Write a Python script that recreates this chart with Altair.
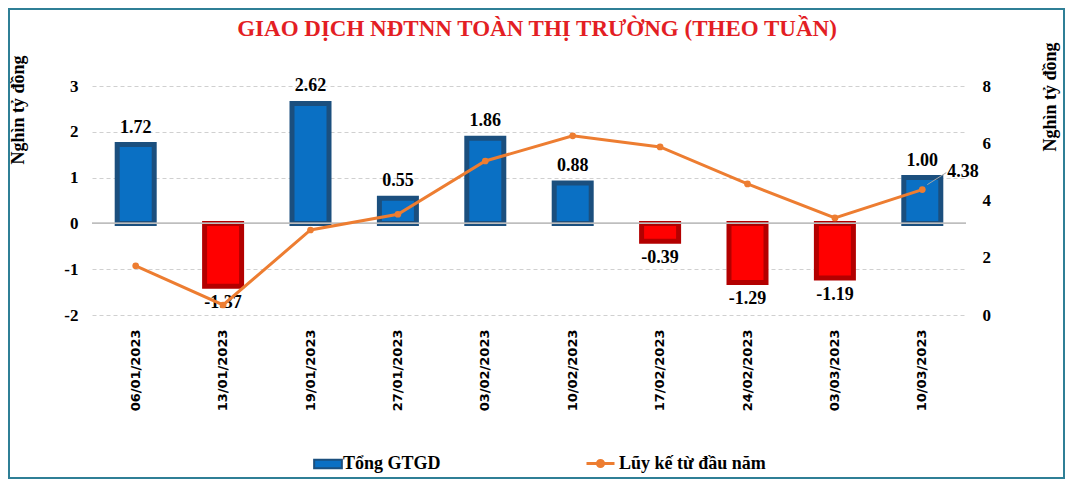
import altair as alt
import pandas as pd

dates = ["06/01/2023", "13/01/2023", "19/01/2023", "27/01/2023", "03/02/2023",
         "10/02/2023", "17/02/2023", "24/02/2023", "03/03/2023", "10/03/2023"]
weekly = [1.72, -1.37, 2.62, 0.55, 1.86, 0.88, -0.39, -1.29, -1.19, 1.00]
cumulative = [1.72, 0.35, 2.97, 3.52, 5.38, 6.26, 5.87, 4.58, 3.39, 4.38]
bar_name = "Tổng GTGD"
line_name = "Lũy kế từ đầu năm"

df = pd.DataFrame({"date": dates, "v": weekly, "cum": cumulative,
                   "s1": bar_name, "s2": line_name})
df["lbl"] = df["v"].map(lambda x: f"{x:.2f}")
df["cl"] = df["cum"].map(lambda x: f"{x:.2f}")

W, H = 874, 229
PL, PT, PR, PB = 84, 78, 99, 164
SERIF = "Liberation Serif"

xenc = alt.X("date:N", sort=dates, title=None,
             scale=alt.Scale(paddingInner=0.52, paddingOuter=0.26),
             axis=alt.Axis(labelAngle=-90, labelFont="DejaVu Sans", labelFontWeight="bold",
                           labelFontSize=13, labelColor="black", labelPadding=14,
                           domain=False, ticks=False, grid=False))

yleft = alt.Y("v:Q", scale=alt.Scale(domain=[-2, 3], nice=False),
              axis=alt.Axis(title="Nghìn tỷ đồng", values=[-2, -1, 0, 1, 2, 3],
                            labelExpr="'' + datum.value",
                            labelFont=SERIF, labelFontWeight="bold", labelFontSize=17,
                            labelColor="black", labelPadding=14, domain=False, ticks=False,
                            grid=True, gridDash=[4, 3], gridColor="#d0d0d0",
                            titleFont=SERIF, titleFontSize=18, titleFontWeight="bold",
                            titleColor="black", titleAngle=-90, titleX=-74, titleY=-31,
                            titleAlign="right", titleBaseline="middle"))

base = alt.Chart(df)

bars = base.mark_bar(size=37, strokeWidth=5).encode(
    x=xenc,
    y=yleft,
    color=alt.condition(
        "datum.v < 0", alt.value("#ff0000"),
        alt.Color("s1:N", scale=alt.Scale(domain=[bar_name], range=["#0a70c4"]),
                  legend=alt.Legend(title=None, orient="none", legendX=226, legendY=368,
                                    symbolType="M-1.6,-0.5L1.6,-0.5L1.6,0.5L-1.6,0.5Z",
                                    symbolSize=300, symbolStrokeColor="#1b4f7e",
                                    symbolStrokeWidth=2, labelFont=SERIF,
                                    labelFontWeight="bold", labelFontSize=18,
                                    labelColor="black", labelOffset=5))),
    stroke=alt.condition("datum.v < 0", alt.value("#b30000"), alt.value("#1b4f7e")),
)

zero = base.mark_rule(color="#bfbfbf", strokeWidth=1).encode(y=alt.datum(0))

pos_lbl = base.transform_filter("datum.v >= 0").mark_text(
    font=SERIF, fontWeight="bold", fontSize=18, color="black", baseline="bottom", dy=-8
).encode(x=alt.X("date:N", sort=dates), y=alt.Y("v:Q"), text="lbl:N")
neg_lbl = base.transform_filter("datum.v < 0").mark_text(
    font=SERIF, fontWeight="bold", fontSize=18, color="black", baseline="top", dy=8
).encode(x=alt.X("date:N", sort=dates), y=alt.Y("v:Q"), text="lbl:N")

left = alt.layer(bars, zero, pos_lbl, neg_lbl)

yright = alt.Y("cum:Q", scale=alt.Scale(domain=[0, 8], nice=False),
               axis=alt.Axis(orient="right", title="Nghìn tỷ đồng", values=[0, 2, 4, 6, 8],
                             labelFont=SERIF, labelFontWeight="bold", labelFontSize=17,
                             labelColor="black", labelPadding=16, domain=False, ticks=False,
                             grid=False, titleFont=SERIF, titleFontSize=18,
                             titleFontWeight="bold", titleColor="black", titleAngle=-90,
                             titleX=84, titleY=-44, titleAlign="right",
                             titleBaseline="middle"))

line = base.mark_line(strokeWidth=3).encode(
    x=alt.X("date:N", sort=dates),
    y=yright,
    stroke=alt.Stroke("s2:N", scale=alt.Scale(domain=[line_name], range=["#ed7d31"]),
                      legend=alt.Legend(title=None, orient="none", legendX=493, legendY=362,
                                        symbolType="M-1,0L1,0M0.22,0A0.22,0.22,0,1,1,-0.22,0A0.22,0.22,0,1,1,0.22,0",
                                        symbolSize=784, symbolStrokeWidth=3,
                                        symbolFillColor="#ed7d31", labelFont=SERIF,
                                        labelFontWeight="bold", labelFontSize=18,
                                        labelColor="black", labelOffset=3)),
)
pts = base.mark_circle(size=45, color="#ed7d31", opacity=1).encode(
    x=alt.X("date:N", sort=dates), y=alt.Y("cum:Q"))

last = base.transform_filter(f"datum.date == '{dates[-1]}'")
leader = last.mark_rule(color="#a6a6a6", strokeWidth=1, xOffset=5, x2Offset=24,
                        yOffset=-5, y2Offset=-17).encode(
    x=alt.X("date:N", sort=dates), x2="date:N", y=alt.Y("cum:Q"), y2="cum:Q")
last_lbl = last.mark_text(font=SERIF, fontWeight="bold", fontSize=18, color="black",
                          align="left", dx=25, dy=-18).encode(
    x=alt.X("date:N", sort=dates), y=alt.Y("cum:Q"), text="cl:N")

right = alt.layer(line, pts, leader, last_lbl)

frame = alt.Chart(pd.DataFrame({"a": [0]})).mark_rect(
    fill=None, stroke="#2f7f96", strokeWidth=2).encode(
    x=alt.value(-PL + 1), x2=alt.value(W + PR - 1),
    y=alt.value(-PT + 1), y2=alt.value(H + PB - 1))

chart = alt.layer(left, right, frame).resolve_scale(
    y="independent", color="independent", stroke="independent"
).properties(
    width=W, height=H,
    autosize=alt.AutoSizeParams(type="none"),
    padding={"left": PL, "top": PT, "right": PR, "bottom": PB},
    title=alt.TitleParams("GIAO DỊCH NĐTNN TOÀN THỊ TRƯỜNG (THEO TUẦN)", font=SERIF,
                          fontSize=23, fontWeight="bold", color="#e31e24", anchor="middle",
                          offset=4, dx=8, dy=37),
    background="white",
).configure_view(stroke=None)

chart.save("out.html", embed_options={"renderer": "svg", "actions": False})
